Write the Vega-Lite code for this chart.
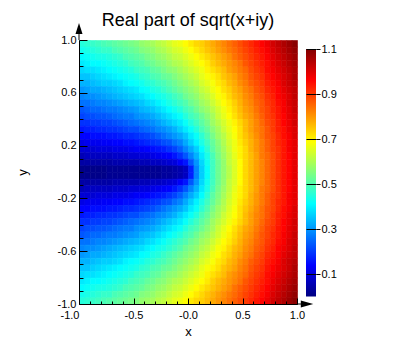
{
"$schema":"https://vega.github.io/schema/vega-lite/v6.json",
"padding":{"left":16,"top":12,"right":5,"bottom":5},
"bounds":"flush",
"spacing":9,
"config":{"font":"Liberation Sans","view":{"stroke":null},"axis":{"labelFont":"Liberation Sans","titleFont":"Liberation Sans","labelColor":"#000","titleColor":"#000","domainColor":"#000","tickColor":"#000","grid":false,"labelFontSize":11,"titleFontSize":13,"titleFontWeight":"normal"}},
"hconcat":[
{
"width":218,"height":264,
"title":{"text":"Real part of sqrt(x+iy)","fontSize":18,"fontWeight":"normal","color":"#000","font":"Liberation Sans","anchor":"middle","frame":"group","offset":-7},
"data":{"values":[
{"x":-1,"y":0.95,"v":0.45},{"x":-0.95,"y":0.95,"v":0.46},{"x":-0.9,"y":0.95,"v":0.47},{"x":-0.85,"y":0.95,"v":0.48},{"x":-0.8,"y":0.95,"v":0.49},{"x":-0.75,"y":0.95,"v":0.5},{"x":-0.7,"y":0.95,"v":0.51},{"x":-0.65,"y":0.95,"v":0.52},{"x":-0.6,"y":0.95,"v":0.53},{"x":-0.55,"y":0.95,"v":0.54},{"x":-0.5,"y":0.95,"v":0.55},{"x":-0.45,"y":0.95,"v":0.57},{"x":-0.4,"y":0.95,"v":0.58},{"x":-0.35,"y":0.95,"v":0.59},{"x":-0.3,"y":0.95,"v":0.61},{"x":-0.25,"y":0.95,"v":0.62},{"x":-0.2,"y":0.95,"v":0.64},{"x":-0.15,"y":0.95,"v":0.66},{"x":-0.1,"y":0.95,"v":0.67},{"x":-0.05,"y":0.95,"v":0.69},{"x":0,"y":0.95,"v":0.71},{"x":0.05,"y":0.95,"v":0.73},{"x":0.1,"y":0.95,"v":0.74},{"x":0.15,"y":0.95,"v":0.76},{"x":0.2,"y":0.95,"v":0.78},{"x":0.25,"y":0.95,"v":0.8},{"x":0.3,"y":0.95,"v":0.82},{"x":0.35,"y":0.95,"v":0.84},{"x":0.4,"y":0.95,"v":0.86},{"x":0.45,"y":0.95,"v":0.88},{"x":0.5,"y":0.95,"v":0.9},{"x":0.55,"y":0.95,"v":0.92},{"x":0.6,"y":0.95,"v":0.94},{"x":0.65,"y":0.95,"v":0.96},{"x":0.7,"y":0.95,"v":0.98},{"x":0.75,"y":0.95,"v":1.01},{"x":0.8,"y":0.95,"v":1.03},{"x":0.85,"y":0.95,"v":1.05},{"x":0.9,"y":0.95,"v":1.07},{"x":0.95,"y":0.95,"v":1.09},
{"x":-1,"y":0.9,"v":0.43},{"x":-0.95,"y":0.9,"v":0.44},{"x":-0.9,"y":0.9,"v":0.45},{"x":-0.85,"y":0.9,"v":0.46},{"x":-0.8,"y":0.9,"v":0.47},{"x":-0.75,"y":0.9,"v":0.47},{"x":-0.7,"y":0.9,"v":0.49},{"x":-0.65,"y":0.9,"v":0.5},{"x":-0.6,"y":0.9,"v":0.51},{"x":-0.55,"y":0.9,"v":0.52},{"x":-0.5,"y":0.9,"v":0.53},{"x":-0.45,"y":0.9,"v":0.55},{"x":-0.4,"y":0.9,"v":0.56},{"x":-0.35,"y":0.9,"v":0.57},{"x":-0.3,"y":0.9,"v":0.59},{"x":-0.25,"y":0.9,"v":0.6},{"x":-0.2,"y":0.9,"v":0.62},{"x":-0.15,"y":0.9,"v":0.64},{"x":-0.1,"y":0.9,"v":0.65},{"x":-0.05,"y":0.9,"v":0.67},{"x":0,"y":0.9,"v":0.69},{"x":0.05,"y":0.9,"v":0.71},{"x":0.1,"y":0.9,"v":0.73},{"x":0.15,"y":0.9,"v":0.75},{"x":0.2,"y":0.9,"v":0.77},{"x":0.25,"y":0.9,"v":0.79},{"x":0.3,"y":0.9,"v":0.81},{"x":0.35,"y":0.9,"v":0.83},{"x":0.4,"y":0.9,"v":0.85},{"x":0.45,"y":0.9,"v":0.87},{"x":0.5,"y":0.9,"v":0.89},{"x":0.55,"y":0.9,"v":0.91},{"x":0.6,"y":0.9,"v":0.93},{"x":0.65,"y":0.9,"v":0.95},{"x":0.7,"y":0.9,"v":0.97},{"x":0.75,"y":0.9,"v":1},{"x":0.8,"y":0.9,"v":1.02},{"x":0.85,"y":0.9,"v":1.04},{"x":0.9,"y":0.9,"v":1.06},{"x":0.95,"y":0.9,"v":1.08},
{"x":-1,"y":0.85,"v":0.41},{"x":-0.95,"y":0.85,"v":0.42},{"x":-0.9,"y":0.85,"v":0.43},{"x":-0.85,"y":0.85,"v":0.44},{"x":-0.8,"y":0.85,"v":0.44},{"x":-0.75,"y":0.85,"v":0.45},{"x":-0.7,"y":0.85,"v":0.46},{"x":-0.65,"y":0.85,"v":0.47},{"x":-0.6,"y":0.85,"v":0.49},{"x":-0.55,"y":0.85,"v":0.5},{"x":-0.5,"y":0.85,"v":0.51},{"x":-0.45,"y":0.85,"v":0.52},{"x":-0.4,"y":0.85,"v":0.54},{"x":-0.35,"y":0.85,"v":0.55},{"x":-0.3,"y":0.85,"v":0.57},{"x":-0.25,"y":0.85,"v":0.58},{"x":-0.2,"y":0.85,"v":0.6},{"x":-0.15,"y":0.85,"v":0.62},{"x":-0.1,"y":0.85,"v":0.63},{"x":-0.05,"y":0.85,"v":0.65},{"x":0,"y":0.85,"v":0.67},{"x":0.05,"y":0.85,"v":0.69},{"x":0.1,"y":0.85,"v":0.71},{"x":0.15,"y":0.85,"v":0.73},{"x":0.2,"y":0.85,"v":0.75},{"x":0.25,"y":0.85,"v":0.77},{"x":0.3,"y":0.85,"v":0.79},{"x":0.35,"y":0.85,"v":0.81},{"x":0.4,"y":0.85,"v":0.84},{"x":0.45,"y":0.85,"v":0.86},{"x":0.5,"y":0.85,"v":0.88},{"x":0.55,"y":0.85,"v":0.9},{"x":0.6,"y":0.85,"v":0.92},{"x":0.65,"y":0.85,"v":0.94},{"x":0.7,"y":0.85,"v":0.96},{"x":0.75,"y":0.85,"v":0.99},{"x":0.8,"y":0.85,"v":1.01},{"x":0.85,"y":0.85,"v":1.03},{"x":0.9,"y":0.85,"v":1.05},{"x":0.95,"y":0.85,"v":1.07},
{"x":-1,"y":0.8,"v":0.39},{"x":-0.95,"y":0.8,"v":0.4},{"x":-0.9,"y":0.8,"v":0.41},{"x":-0.85,"y":0.8,"v":0.41},{"x":-0.8,"y":0.8,"v":0.42},{"x":-0.75,"y":0.8,"v":0.43},{"x":-0.7,"y":0.8,"v":0.44},{"x":-0.65,"y":0.8,"v":0.45},{"x":-0.6,"y":0.8,"v":0.46},{"x":-0.55,"y":0.8,"v":0.48},{"x":-0.5,"y":0.8,"v":0.49},{"x":-0.45,"y":0.8,"v":0.5},{"x":-0.4,"y":0.8,"v":0.52},{"x":-0.35,"y":0.8,"v":0.53},{"x":-0.3,"y":0.8,"v":0.55},{"x":-0.25,"y":0.8,"v":0.56},{"x":-0.2,"y":0.8,"v":0.58},{"x":-0.15,"y":0.8,"v":0.6},{"x":-0.1,"y":0.8,"v":0.61},{"x":-0.05,"y":0.8,"v":0.63},{"x":0,"y":0.8,"v":0.65},{"x":0.05,"y":0.8,"v":0.67},{"x":0.1,"y":0.8,"v":0.69},{"x":0.15,"y":0.8,"v":0.71},{"x":0.2,"y":0.8,"v":0.74},{"x":0.25,"y":0.8,"v":0.76},{"x":0.3,"y":0.8,"v":0.78},{"x":0.35,"y":0.8,"v":0.8},{"x":0.4,"y":0.8,"v":0.82},{"x":0.45,"y":0.8,"v":0.84},{"x":0.5,"y":0.8,"v":0.87},{"x":0.55,"y":0.8,"v":0.89},{"x":0.6,"y":0.8,"v":0.91},{"x":0.65,"y":0.8,"v":0.93},{"x":0.7,"y":0.8,"v":0.95},{"x":0.75,"y":0.8,"v":0.98},{"x":0.8,"y":0.8,"v":1},{"x":0.85,"y":0.8,"v":1.02},{"x":0.9,"y":0.8,"v":1.04},{"x":0.95,"y":0.8,"v":1.06},
{"x":-1,"y":0.75,"v":0.37},{"x":-0.95,"y":0.75,"v":0.38},{"x":-0.9,"y":0.75,"v":0.38},{"x":-0.85,"y":0.75,"v":0.39},{"x":-0.8,"y":0.75,"v":0.4},{"x":-0.75,"y":0.75,"v":0.41},{"x":-0.7,"y":0.75,"v":0.42},{"x":-0.65,"y":0.75,"v":0.43},{"x":-0.6,"y":0.75,"v":0.44},{"x":-0.55,"y":0.75,"v":0.45},{"x":-0.5,"y":0.75,"v":0.47},{"x":-0.45,"y":0.75,"v":0.48},{"x":-0.4,"y":0.75,"v":0.49},{"x":-0.35,"y":0.75,"v":0.51},{"x":-0.3,"y":0.75,"v":0.52},{"x":-0.25,"y":0.75,"v":0.54},{"x":-0.2,"y":0.75,"v":0.56},{"x":-0.15,"y":0.75,"v":0.57},{"x":-0.1,"y":0.75,"v":0.59},{"x":-0.05,"y":0.75,"v":0.61},{"x":0,"y":0.75,"v":0.63},{"x":0.05,"y":0.75,"v":0.65},{"x":0.1,"y":0.75,"v":0.67},{"x":0.15,"y":0.75,"v":0.7},{"x":0.2,"y":0.75,"v":0.72},{"x":0.25,"y":0.75,"v":0.74},{"x":0.3,"y":0.75,"v":0.76},{"x":0.35,"y":0.75,"v":0.79},{"x":0.4,"y":0.75,"v":0.81},{"x":0.45,"y":0.75,"v":0.83},{"x":0.5,"y":0.75,"v":0.85},{"x":0.55,"y":0.75,"v":0.88},{"x":0.6,"y":0.75,"v":0.9},{"x":0.65,"y":0.75,"v":0.92},{"x":0.7,"y":0.75,"v":0.95},{"x":0.75,"y":0.75,"v":0.97},{"x":0.8,"y":0.75,"v":0.99},{"x":0.85,"y":0.75,"v":1.01},{"x":0.9,"y":0.75,"v":1.03},{"x":0.95,"y":0.75,"v":1.05},
{"x":-1,"y":0.7,"v":0.35},{"x":-0.95,"y":0.7,"v":0.35},{"x":-0.9,"y":0.7,"v":0.36},{"x":-0.85,"y":0.7,"v":0.37},{"x":-0.8,"y":0.7,"v":0.38},{"x":-0.75,"y":0.7,"v":0.39},{"x":-0.7,"y":0.7,"v":0.4},{"x":-0.65,"y":0.7,"v":0.41},{"x":-0.6,"y":0.7,"v":0.42},{"x":-0.55,"y":0.7,"v":0.43},{"x":-0.5,"y":0.7,"v":0.44},{"x":-0.45,"y":0.7,"v":0.46},{"x":-0.4,"y":0.7,"v":0.47},{"x":-0.35,"y":0.7,"v":0.49},{"x":-0.3,"y":0.7,"v":0.5},{"x":-0.25,"y":0.7,"v":0.52},{"x":-0.2,"y":0.7,"v":0.53},{"x":-0.15,"y":0.7,"v":0.55},{"x":-0.1,"y":0.7,"v":0.57},{"x":-0.05,"y":0.7,"v":0.59},{"x":0,"y":0.7,"v":0.61},{"x":0.05,"y":0.7,"v":0.63},{"x":0.1,"y":0.7,"v":0.66},{"x":0.15,"y":0.7,"v":0.68},{"x":0.2,"y":0.7,"v":0.7},{"x":0.25,"y":0.7,"v":0.72},{"x":0.3,"y":0.7,"v":0.75},{"x":0.35,"y":0.7,"v":0.77},{"x":0.4,"y":0.7,"v":0.79},{"x":0.45,"y":0.7,"v":0.82},{"x":0.5,"y":0.7,"v":0.84},{"x":0.55,"y":0.7,"v":0.87},{"x":0.6,"y":0.7,"v":0.89},{"x":0.65,"y":0.7,"v":0.91},{"x":0.7,"y":0.7,"v":0.94},{"x":0.75,"y":0.7,"v":0.96},{"x":0.8,"y":0.7,"v":0.98},{"x":0.85,"y":0.7,"v":1},{"x":0.9,"y":0.7,"v":1.02},{"x":0.95,"y":0.7,"v":1.05},
{"x":-1,"y":0.65,"v":0.33},{"x":-0.95,"y":0.65,"v":0.33},{"x":-0.9,"y":0.65,"v":0.34},{"x":-0.85,"y":0.65,"v":0.35},{"x":-0.8,"y":0.65,"v":0.36},{"x":-0.75,"y":0.65,"v":0.36},{"x":-0.7,"y":0.65,"v":0.37},{"x":-0.65,"y":0.65,"v":0.38},{"x":-0.6,"y":0.65,"v":0.4},{"x":-0.55,"y":0.65,"v":0.41},{"x":-0.5,"y":0.65,"v":0.42},{"x":-0.45,"y":0.65,"v":0.43},{"x":-0.4,"y":0.65,"v":0.45},{"x":-0.35,"y":0.65,"v":0.46},{"x":-0.3,"y":0.65,"v":0.48},{"x":-0.25,"y":0.65,"v":0.49},{"x":-0.2,"y":0.65,"v":0.51},{"x":-0.15,"y":0.65,"v":0.53},{"x":-0.1,"y":0.65,"v":0.55},{"x":-0.05,"y":0.65,"v":0.57},{"x":0,"y":0.65,"v":0.59},{"x":0.05,"y":0.65,"v":0.61},{"x":0.1,"y":0.65,"v":0.64},{"x":0.15,"y":0.65,"v":0.66},{"x":0.2,"y":0.65,"v":0.68},{"x":0.25,"y":0.65,"v":0.71},{"x":0.3,"y":0.65,"v":0.73},{"x":0.35,"y":0.65,"v":0.76},{"x":0.4,"y":0.65,"v":0.78},{"x":0.45,"y":0.65,"v":0.81},{"x":0.5,"y":0.65,"v":0.83},{"x":0.55,"y":0.65,"v":0.86},{"x":0.6,"y":0.65,"v":0.88},{"x":0.65,"y":0.65,"v":0.9},{"x":0.7,"y":0.65,"v":0.93},{"x":0.75,"y":0.65,"v":0.95},{"x":0.8,"y":0.65,"v":0.97},{"x":0.85,"y":0.65,"v":1},{"x":0.9,"y":0.65,"v":1.02},{"x":0.95,"y":0.65,"v":1.04},
{"x":-1,"y":0.6,"v":0.3},{"x":-0.95,"y":0.6,"v":0.31},{"x":-0.9,"y":0.6,"v":0.32},{"x":-0.85,"y":0.6,"v":0.32},{"x":-0.8,"y":0.6,"v":0.33},{"x":-0.75,"y":0.6,"v":0.34},{"x":-0.7,"y":0.6,"v":0.35},{"x":-0.65,"y":0.6,"v":0.36},{"x":-0.6,"y":0.6,"v":0.37},{"x":-0.55,"y":0.6,"v":0.38},{"x":-0.5,"y":0.6,"v":0.39},{"x":-0.45,"y":0.6,"v":0.41},{"x":-0.4,"y":0.6,"v":0.42},{"x":-0.35,"y":0.6,"v":0.44},{"x":-0.3,"y":0.6,"v":0.45},{"x":-0.25,"y":0.6,"v":0.47},{"x":-0.2,"y":0.6,"v":0.49},{"x":-0.15,"y":0.6,"v":0.51},{"x":-0.1,"y":0.6,"v":0.53},{"x":-0.05,"y":0.6,"v":0.55},{"x":0,"y":0.6,"v":0.57},{"x":0.05,"y":0.6,"v":0.59},{"x":0.1,"y":0.6,"v":0.62},{"x":0.15,"y":0.6,"v":0.64},{"x":0.2,"y":0.6,"v":0.67},{"x":0.25,"y":0.6,"v":0.69},{"x":0.3,"y":0.6,"v":0.72},{"x":0.35,"y":0.6,"v":0.74},{"x":0.4,"y":0.6,"v":0.77},{"x":0.45,"y":0.6,"v":0.79},{"x":0.5,"y":0.6,"v":0.82},{"x":0.55,"y":0.6,"v":0.84},{"x":0.6,"y":0.6,"v":0.87},{"x":0.65,"y":0.6,"v":0.89},{"x":0.7,"y":0.6,"v":0.92},{"x":0.75,"y":0.6,"v":0.94},{"x":0.8,"y":0.6,"v":0.96},{"x":0.85,"y":0.6,"v":0.99},{"x":0.9,"y":0.6,"v":1.01},{"x":0.95,"y":0.6,"v":1.03},
{"x":-1,"y":0.55,"v":0.28},{"x":-0.95,"y":0.55,"v":0.29},{"x":-0.9,"y":0.55,"v":0.29},{"x":-0.85,"y":0.55,"v":0.3},{"x":-0.8,"y":0.55,"v":0.31},{"x":-0.75,"y":0.55,"v":0.32},{"x":-0.7,"y":0.55,"v":0.33},{"x":-0.65,"y":0.55,"v":0.34},{"x":-0.6,"y":0.55,"v":0.35},{"x":-0.55,"y":0.55,"v":0.36},{"x":-0.5,"y":0.55,"v":0.37},{"x":-0.45,"y":0.55,"v":0.38},{"x":-0.4,"y":0.55,"v":0.4},{"x":-0.35,"y":0.55,"v":0.41},{"x":-0.3,"y":0.55,"v":0.43},{"x":-0.25,"y":0.55,"v":0.44},{"x":-0.2,"y":0.55,"v":0.46},{"x":-0.15,"y":0.55,"v":0.48},{"x":-0.1,"y":0.55,"v":0.5},{"x":-0.05,"y":0.55,"v":0.53},{"x":0,"y":0.55,"v":0.55},{"x":0.05,"y":0.55,"v":0.57},{"x":0.1,"y":0.55,"v":0.6},{"x":0.15,"y":0.55,"v":0.62},{"x":0.2,"y":0.55,"v":0.65},{"x":0.25,"y":0.55,"v":0.68},{"x":0.3,"y":0.55,"v":0.7},{"x":0.35,"y":0.55,"v":0.73},{"x":0.4,"y":0.55,"v":0.76},{"x":0.45,"y":0.55,"v":0.78},{"x":0.5,"y":0.55,"v":0.81},{"x":0.55,"y":0.55,"v":0.83},{"x":0.6,"y":0.55,"v":0.86},{"x":0.65,"y":0.55,"v":0.88},{"x":0.7,"y":0.55,"v":0.91},{"x":0.75,"y":0.55,"v":0.93},{"x":0.8,"y":0.55,"v":0.96},{"x":0.85,"y":0.55,"v":0.98},{"x":0.9,"y":0.55,"v":1},{"x":0.95,"y":0.55,"v":1.03},
{"x":-1,"y":0.5,"v":0.26},{"x":-0.95,"y":0.5,"v":0.26},{"x":-0.9,"y":0.5,"v":0.27},{"x":-0.85,"y":0.5,"v":0.28},{"x":-0.8,"y":0.5,"v":0.28},{"x":-0.75,"y":0.5,"v":0.29},{"x":-0.7,"y":0.5,"v":0.3},{"x":-0.65,"y":0.5,"v":0.31},{"x":-0.6,"y":0.5,"v":0.32},{"x":-0.55,"y":0.5,"v":0.33},{"x":-0.5,"y":0.5,"v":0.34},{"x":-0.45,"y":0.5,"v":0.35},{"x":-0.4,"y":0.5,"v":0.37},{"x":-0.35,"y":0.5,"v":0.38},{"x":-0.3,"y":0.5,"v":0.4},{"x":-0.25,"y":0.5,"v":0.42},{"x":-0.2,"y":0.5,"v":0.44},{"x":-0.15,"y":0.5,"v":0.46},{"x":-0.1,"y":0.5,"v":0.48},{"x":-0.05,"y":0.5,"v":0.5},{"x":0,"y":0.5,"v":0.53},{"x":0.05,"y":0.5,"v":0.55},{"x":0.1,"y":0.5,"v":0.58},{"x":0.15,"y":0.5,"v":0.6},{"x":0.2,"y":0.5,"v":0.63},{"x":0.25,"y":0.5,"v":0.66},{"x":0.3,"y":0.5,"v":0.69},{"x":0.35,"y":0.5,"v":0.71},{"x":0.4,"y":0.5,"v":0.74},{"x":0.45,"y":0.5,"v":0.77},{"x":0.5,"y":0.5,"v":0.8},{"x":0.55,"y":0.5,"v":0.82},{"x":0.6,"y":0.5,"v":0.85},{"x":0.65,"y":0.5,"v":0.87},{"x":0.7,"y":0.5,"v":0.9},{"x":0.75,"y":0.5,"v":0.92},{"x":0.8,"y":0.5,"v":0.95},{"x":0.85,"y":0.5,"v":0.97},{"x":0.9,"y":0.5,"v":1},{"x":0.95,"y":0.5,"v":1.02},
{"x":-1,"y":0.45,"v":0.23},{"x":-0.95,"y":0.45,"v":0.24},{"x":-0.9,"y":0.45,"v":0.25},{"x":-0.85,"y":0.45,"v":0.25},{"x":-0.8,"y":0.45,"v":0.26},{"x":-0.75,"y":0.45,"v":0.27},{"x":-0.7,"y":0.45,"v":0.27},{"x":-0.65,"y":0.45,"v":0.28},{"x":-0.6,"y":0.45,"v":0.29},{"x":-0.55,"y":0.45,"v":0.3},{"x":-0.5,"y":0.45,"v":0.31},{"x":-0.45,"y":0.45,"v":0.33},{"x":-0.4,"y":0.45,"v":0.34},{"x":-0.35,"y":0.45,"v":0.35},{"x":-0.3,"y":0.45,"v":0.37},{"x":-0.25,"y":0.45,"v":0.39},{"x":-0.2,"y":0.45,"v":0.41},{"x":-0.15,"y":0.45,"v":0.43},{"x":-0.1,"y":0.45,"v":0.45},{"x":-0.05,"y":0.45,"v":0.48},{"x":0,"y":0.45,"v":0.5},{"x":0.05,"y":0.45,"v":0.53},{"x":0.1,"y":0.45,"v":0.56},{"x":0.15,"y":0.45,"v":0.58},{"x":0.2,"y":0.45,"v":0.61},{"x":0.25,"y":0.45,"v":0.64},{"x":0.3,"y":0.45,"v":0.67},{"x":0.35,"y":0.45,"v":0.7},{"x":0.4,"y":0.45,"v":0.73},{"x":0.45,"y":0.45,"v":0.76},{"x":0.5,"y":0.45,"v":0.79},{"x":0.55,"y":0.45,"v":0.81},{"x":0.6,"y":0.45,"v":0.84},{"x":0.65,"y":0.45,"v":0.87},{"x":0.7,"y":0.45,"v":0.89},{"x":0.75,"y":0.45,"v":0.92},{"x":0.8,"y":0.45,"v":0.94},{"x":0.85,"y":0.45,"v":0.97},{"x":0.9,"y":0.45,"v":0.99},{"x":0.95,"y":0.45,"v":1.02},
{"x":-1,"y":0.4,"v":0.21},{"x":-0.95,"y":0.4,"v":0.22},{"x":-0.9,"y":0.4,"v":0.22},{"x":-0.85,"y":0.4,"v":0.23},{"x":-0.8,"y":0.4,"v":0.23},{"x":-0.75,"y":0.4,"v":0.24},{"x":-0.7,"y":0.4,"v":0.25},{"x":-0.65,"y":0.4,"v":0.26},{"x":-0.6,"y":0.4,"v":0.27},{"x":-0.55,"y":0.4,"v":0.27},{"x":-0.5,"y":0.4,"v":0.29},{"x":-0.45,"y":0.4,"v":0.3},{"x":-0.4,"y":0.4,"v":0.31},{"x":-0.35,"y":0.4,"v":0.32},{"x":-0.3,"y":0.4,"v":0.34},{"x":-0.25,"y":0.4,"v":0.36},{"x":-0.2,"y":0.4,"v":0.38},{"x":-0.15,"y":0.4,"v":0.4},{"x":-0.1,"y":0.4,"v":0.42},{"x":-0.05,"y":0.4,"v":0.45},{"x":0,"y":0.4,"v":0.48},{"x":0.05,"y":0.4,"v":0.5},{"x":0.1,"y":0.4,"v":0.53},{"x":0.15,"y":0.4,"v":0.56},{"x":0.2,"y":0.4,"v":0.59},{"x":0.25,"y":0.4,"v":0.63},{"x":0.3,"y":0.4,"v":0.66},{"x":0.35,"y":0.4,"v":0.69},{"x":0.4,"y":0.4,"v":0.72},{"x":0.45,"y":0.4,"v":0.75},{"x":0.5,"y":0.4,"v":0.78},{"x":0.55,"y":0.4,"v":0.8},{"x":0.6,"y":0.4,"v":0.83},{"x":0.65,"y":0.4,"v":0.86},{"x":0.7,"y":0.4,"v":0.89},{"x":0.75,"y":0.4,"v":0.91},{"x":0.8,"y":0.4,"v":0.94},{"x":0.85,"y":0.4,"v":0.96},{"x":0.9,"y":0.4,"v":0.99},{"x":0.95,"y":0.4,"v":1.01},
{"x":-1,"y":0.35,"v":0.19},{"x":-0.95,"y":0.35,"v":0.19},{"x":-0.9,"y":0.35,"v":0.2},{"x":-0.85,"y":0.35,"v":0.2},{"x":-0.8,"y":0.35,"v":0.21},{"x":-0.75,"y":0.35,"v":0.21},{"x":-0.7,"y":0.35,"v":0.22},{"x":-0.65,"y":0.35,"v":0.23},{"x":-0.6,"y":0.35,"v":0.24},{"x":-0.55,"y":0.35,"v":0.25},{"x":-0.5,"y":0.35,"v":0.26},{"x":-0.45,"y":0.35,"v":0.27},{"x":-0.4,"y":0.35,"v":0.28},{"x":-0.35,"y":0.35,"v":0.29},{"x":-0.3,"y":0.35,"v":0.31},{"x":-0.25,"y":0.35,"v":0.33},{"x":-0.2,"y":0.35,"v":0.35},{"x":-0.15,"y":0.35,"v":0.37},{"x":-0.1,"y":0.35,"v":0.39},{"x":-0.05,"y":0.35,"v":0.42},{"x":0,"y":0.35,"v":0.45},{"x":0.05,"y":0.35,"v":0.48},{"x":0.1,"y":0.35,"v":0.51},{"x":0.15,"y":0.35,"v":0.54},{"x":0.2,"y":0.35,"v":0.58},{"x":0.25,"y":0.35,"v":0.61},{"x":0.3,"y":0.35,"v":0.64},{"x":0.35,"y":0.35,"v":0.67},{"x":0.4,"y":0.35,"v":0.7},{"x":0.45,"y":0.35,"v":0.73},{"x":0.5,"y":0.35,"v":0.76},{"x":0.55,"y":0.35,"v":0.79},{"x":0.6,"y":0.35,"v":0.82},{"x":0.65,"y":0.35,"v":0.85},{"x":0.7,"y":0.35,"v":0.88},{"x":0.75,"y":0.35,"v":0.9},{"x":0.8,"y":0.35,"v":0.93},{"x":0.85,"y":0.35,"v":0.96},{"x":0.9,"y":0.35,"v":0.98},{"x":0.95,"y":0.35,"v":1.01},
{"x":-1,"y":0.3,"v":0.16},{"x":-0.95,"y":0.3,"v":0.17},{"x":-0.9,"y":0.3,"v":0.17},{"x":-0.85,"y":0.3,"v":0.18},{"x":-0.8,"y":0.3,"v":0.18},{"x":-0.75,"y":0.3,"v":0.19},{"x":-0.7,"y":0.3,"v":0.19},{"x":-0.65,"y":0.3,"v":0.2},{"x":-0.6,"y":0.3,"v":0.21},{"x":-0.55,"y":0.3,"v":0.22},{"x":-0.5,"y":0.3,"v":0.22},{"x":-0.45,"y":0.3,"v":0.24},{"x":-0.4,"y":0.3,"v":0.25},{"x":-0.35,"y":0.3,"v":0.26},{"x":-0.3,"y":0.3,"v":0.28},{"x":-0.25,"y":0.3,"v":0.29},{"x":-0.2,"y":0.3,"v":0.31},{"x":-0.15,"y":0.3,"v":0.33},{"x":-0.1,"y":0.3,"v":0.36},{"x":-0.05,"y":0.3,"v":0.39},{"x":0,"y":0.3,"v":0.42},{"x":0.05,"y":0.3,"v":0.45},{"x":0.1,"y":0.3,"v":0.49},{"x":0.15,"y":0.3,"v":0.52},{"x":0.2,"y":0.3,"v":0.56},{"x":0.25,"y":0.3,"v":0.59},{"x":0.3,"y":0.3,"v":0.63},{"x":0.35,"y":0.3,"v":0.66},{"x":0.4,"y":0.3,"v":0.69},{"x":0.45,"y":0.3,"v":0.72},{"x":0.5,"y":0.3,"v":0.76},{"x":0.55,"y":0.3,"v":0.79},{"x":0.6,"y":0.3,"v":0.82},{"x":0.65,"y":0.3,"v":0.84},{"x":0.7,"y":0.3,"v":0.87},{"x":0.75,"y":0.3,"v":0.9},{"x":0.8,"y":0.3,"v":0.93},{"x":0.85,"y":0.3,"v":0.95},{"x":0.9,"y":0.3,"v":0.98},{"x":0.95,"y":0.3,"v":1},
{"x":-1,"y":0.25,"v":0.14},{"x":-0.95,"y":0.25,"v":0.14},{"x":-0.9,"y":0.25,"v":0.15},{"x":-0.85,"y":0.25,"v":0.15},{"x":-0.8,"y":0.25,"v":0.15},{"x":-0.75,"y":0.25,"v":0.16},{"x":-0.7,"y":0.25,"v":0.16},{"x":-0.65,"y":0.25,"v":0.17},{"x":-0.6,"y":0.25,"v":0.18},{"x":-0.55,"y":0.25,"v":0.18},{"x":-0.5,"y":0.25,"v":0.19},{"x":-0.45,"y":0.25,"v":0.2},{"x":-0.4,"y":0.25,"v":0.21},{"x":-0.35,"y":0.25,"v":0.22},{"x":-0.3,"y":0.25,"v":0.24},{"x":-0.25,"y":0.25,"v":0.26},{"x":-0.2,"y":0.25,"v":0.28},{"x":-0.15,"y":0.25,"v":0.3},{"x":-0.1,"y":0.25,"v":0.32},{"x":-0.05,"y":0.25,"v":0.35},{"x":0,"y":0.25,"v":0.39},{"x":0.05,"y":0.25,"v":0.42},{"x":0.1,"y":0.25,"v":0.46},{"x":0.15,"y":0.25,"v":0.5},{"x":0.2,"y":0.25,"v":0.54},{"x":0.25,"y":0.25,"v":0.58},{"x":0.3,"y":0.25,"v":0.61},{"x":0.35,"y":0.25,"v":0.65},{"x":0.4,"y":0.25,"v":0.68},{"x":0.45,"y":0.25,"v":0.72},{"x":0.5,"y":0.25,"v":0.75},{"x":0.55,"y":0.25,"v":0.78},{"x":0.6,"y":0.25,"v":0.81},{"x":0.65,"y":0.25,"v":0.84},{"x":0.7,"y":0.25,"v":0.87},{"x":0.75,"y":0.25,"v":0.89},{"x":0.8,"y":0.25,"v":0.92},{"x":0.85,"y":0.25,"v":0.95},{"x":0.9,"y":0.25,"v":0.97},{"x":0.95,"y":0.25,"v":1},
{"x":-1,"y":0.2,"v":0.11},{"x":-0.95,"y":0.2,"v":0.12},{"x":-0.9,"y":0.2,"v":0.12},{"x":-0.85,"y":0.2,"v":0.12},{"x":-0.8,"y":0.2,"v":0.13},{"x":-0.75,"y":0.2,"v":0.13},{"x":-0.7,"y":0.2,"v":0.14},{"x":-0.65,"y":0.2,"v":0.14},{"x":-0.6,"y":0.2,"v":0.15},{"x":-0.55,"y":0.2,"v":0.15},{"x":-0.5,"y":0.2,"v":0.16},{"x":-0.45,"y":0.2,"v":0.17},{"x":-0.4,"y":0.2,"v":0.18},{"x":-0.35,"y":0.2,"v":0.19},{"x":-0.3,"y":0.2,"v":0.2},{"x":-0.25,"y":0.2,"v":0.22},{"x":-0.2,"y":0.2,"v":0.23},{"x":-0.15,"y":0.2,"v":0.26},{"x":-0.1,"y":0.2,"v":0.28},{"x":-0.05,"y":0.2,"v":0.32},{"x":0,"y":0.2,"v":0.36},{"x":0.05,"y":0.2,"v":0.4},{"x":0.1,"y":0.2,"v":0.44},{"x":0.15,"y":0.2,"v":0.48},{"x":0.2,"y":0.2,"v":0.52},{"x":0.25,"y":0.2,"v":0.56},{"x":0.3,"y":0.2,"v":0.6},{"x":0.35,"y":0.2,"v":0.64},{"x":0.4,"y":0.2,"v":0.67},{"x":0.45,"y":0.2,"v":0.71},{"x":0.5,"y":0.2,"v":0.74},{"x":0.55,"y":0.2,"v":0.77},{"x":0.6,"y":0.2,"v":0.8},{"x":0.65,"y":0.2,"v":0.83},{"x":0.7,"y":0.2,"v":0.86},{"x":0.75,"y":0.2,"v":0.89},{"x":0.8,"y":0.2,"v":0.92},{"x":0.85,"y":0.2,"v":0.94},{"x":0.9,"y":0.2,"v":0.97},{"x":0.95,"y":0.2,"v":0.99},
{"x":-1,"y":0.15,"v":0.09},{"x":-0.95,"y":0.15,"v":0.09},{"x":-0.9,"y":0.15,"v":0.09},{"x":-0.85,"y":0.15,"v":0.1},{"x":-0.8,"y":0.15,"v":0.1},{"x":-0.75,"y":0.15,"v":0.1},{"x":-0.7,"y":0.15,"v":0.11},{"x":-0.65,"y":0.15,"v":0.11},{"x":-0.6,"y":0.15,"v":0.11},{"x":-0.55,"y":0.15,"v":0.12},{"x":-0.5,"y":0.15,"v":0.13},{"x":-0.45,"y":0.15,"v":0.13},{"x":-0.4,"y":0.15,"v":0.14},{"x":-0.35,"y":0.15,"v":0.15},{"x":-0.3,"y":0.15,"v":0.16},{"x":-0.25,"y":0.15,"v":0.17},{"x":-0.2,"y":0.15,"v":0.19},{"x":-0.15,"y":0.15,"v":0.21},{"x":-0.1,"y":0.15,"v":0.24},{"x":-0.05,"y":0.15,"v":0.28},{"x":0,"y":0.15,"v":0.32},{"x":0.05,"y":0.15,"v":0.36},{"x":0.1,"y":0.15,"v":0.41},{"x":0.15,"y":0.15,"v":0.46},{"x":0.2,"y":0.15,"v":0.51},{"x":0.25,"y":0.15,"v":0.55},{"x":0.3,"y":0.15,"v":0.59},{"x":0.35,"y":0.15,"v":0.63},{"x":0.4,"y":0.15,"v":0.67},{"x":0.45,"y":0.15,"v":0.7},{"x":0.5,"y":0.15,"v":0.73},{"x":0.55,"y":0.15,"v":0.77},{"x":0.6,"y":0.15,"v":0.8},{"x":0.65,"y":0.15,"v":0.83},{"x":0.7,"y":0.15,"v":0.86},{"x":0.75,"y":0.15,"v":0.89},{"x":0.8,"y":0.15,"v":0.91},{"x":0.85,"y":0.15,"v":0.94},{"x":0.9,"y":0.15,"v":0.97},{"x":0.95,"y":0.15,"v":0.99},
{"x":-1,"y":0.1,"v":0.06},{"x":-0.95,"y":0.1,"v":0.07},{"x":-0.9,"y":0.1,"v":0.07},{"x":-0.85,"y":0.1,"v":0.07},{"x":-0.8,"y":0.1,"v":0.07},{"x":-0.75,"y":0.1,"v":0.07},{"x":-0.7,"y":0.1,"v":0.08},{"x":-0.65,"y":0.1,"v":0.08},{"x":-0.6,"y":0.1,"v":0.08},{"x":-0.55,"y":0.1,"v":0.09},{"x":-0.5,"y":0.1,"v":0.09},{"x":-0.45,"y":0.1,"v":0.1},{"x":-0.4,"y":0.1,"v":0.1},{"x":-0.35,"y":0.1,"v":0.11},{"x":-0.3,"y":0.1,"v":0.12},{"x":-0.25,"y":0.1,"v":0.13},{"x":-0.2,"y":0.1,"v":0.14},{"x":-0.15,"y":0.1,"v":0.16},{"x":-0.1,"y":0.1,"v":0.19},{"x":-0.05,"y":0.1,"v":0.23},{"x":0,"y":0.1,"v":0.28},{"x":0.05,"y":0.1,"v":0.33},{"x":0.1,"y":0.1,"v":0.39},{"x":0.15,"y":0.1,"v":0.44},{"x":0.2,"y":0.1,"v":0.49},{"x":0.25,"y":0.1,"v":0.54},{"x":0.3,"y":0.1,"v":0.58},{"x":0.35,"y":0.1,"v":0.62},{"x":0.4,"y":0.1,"v":0.66},{"x":0.45,"y":0.1,"v":0.7},{"x":0.5,"y":0.1,"v":0.73},{"x":0.55,"y":0.1,"v":0.76},{"x":0.6,"y":0.1,"v":0.79},{"x":0.65,"y":0.1,"v":0.83},{"x":0.7,"y":0.1,"v":0.85},{"x":0.75,"y":0.1,"v":0.88},{"x":0.8,"y":0.1,"v":0.91},{"x":0.85,"y":0.1,"v":0.94},{"x":0.9,"y":0.1,"v":0.96},{"x":0.95,"y":0.1,"v":0.99},
{"x":-1,"y":0.05,"v":0.04},{"x":-0.95,"y":0.05,"v":0.04},{"x":-0.9,"y":0.05,"v":0.04},{"x":-0.85,"y":0.05,"v":0.04},{"x":-0.8,"y":0.05,"v":0.04},{"x":-0.75,"y":0.05,"v":0.04},{"x":-0.7,"y":0.05,"v":0.05},{"x":-0.65,"y":0.05,"v":0.05},{"x":-0.6,"y":0.05,"v":0.05},{"x":-0.55,"y":0.05,"v":0.05},{"x":-0.5,"y":0.05,"v":0.05},{"x":-0.45,"y":0.05,"v":0.06},{"x":-0.4,"y":0.05,"v":0.06},{"x":-0.35,"y":0.05,"v":0.07},{"x":-0.3,"y":0.05,"v":0.07},{"x":-0.25,"y":0.05,"v":0.08},{"x":-0.2,"y":0.05,"v":0.09},{"x":-0.15,"y":0.05,"v":0.1},{"x":-0.1,"y":0.05,"v":0.13},{"x":-0.05,"y":0.05,"v":0.16},{"x":0,"y":0.05,"v":0.23},{"x":0.05,"y":0.05,"v":0.3},{"x":0.1,"y":0.05,"v":0.37},{"x":0.15,"y":0.05,"v":0.43},{"x":0.2,"y":0.05,"v":0.48},{"x":0.25,"y":0.05,"v":0.53},{"x":0.3,"y":0.05,"v":0.57},{"x":0.35,"y":0.05,"v":0.62},{"x":0.4,"y":0.05,"v":0.65},{"x":0.45,"y":0.05,"v":0.69},{"x":0.5,"y":0.05,"v":0.73},{"x":0.55,"y":0.05,"v":0.76},{"x":0.6,"y":0.05,"v":0.79},{"x":0.65,"y":0.05,"v":0.82},{"x":0.7,"y":0.05,"v":0.85},{"x":0.75,"y":0.05,"v":0.88},{"x":0.8,"y":0.05,"v":0.91},{"x":0.85,"y":0.05,"v":0.94},{"x":0.9,"y":0.05,"v":0.96},{"x":0.95,"y":0.05,"v":0.99},
{"x":-1,"y":0,"v":0.01},{"x":-0.95,"y":0,"v":0.01},{"x":-0.9,"y":0,"v":0.01},{"x":-0.85,"y":0,"v":0.01},{"x":-0.8,"y":0,"v":0.01},{"x":-0.75,"y":0,"v":0.02},{"x":-0.7,"y":0,"v":0.02},{"x":-0.65,"y":0,"v":0.02},{"x":-0.6,"y":0,"v":0.02},{"x":-0.55,"y":0,"v":0.02},{"x":-0.5,"y":0,"v":0.02},{"x":-0.45,"y":0,"v":0.02},{"x":-0.4,"y":0,"v":0.02},{"x":-0.35,"y":0,"v":0.02},{"x":-0.3,"y":0,"v":0.02},{"x":-0.25,"y":0,"v":0.03},{"x":-0.2,"y":0,"v":0.03},{"x":-0.15,"y":0,"v":0.04},{"x":-0.1,"y":0,"v":0.05},{"x":-0.05,"y":0,"v":0.07},{"x":0,"y":0,"v":0.17},{"x":0.05,"y":0,"v":0.28},{"x":0.1,"y":0,"v":0.36},{"x":0.15,"y":0,"v":0.42},{"x":0.2,"y":0,"v":0.48},{"x":0.25,"y":0,"v":0.53},{"x":0.3,"y":0,"v":0.57},{"x":0.35,"y":0,"v":0.61},{"x":0.4,"y":0,"v":0.65},{"x":0.45,"y":0,"v":0.69},{"x":0.5,"y":0,"v":0.73},{"x":0.55,"y":0,"v":0.76},{"x":0.6,"y":0,"v":0.79},{"x":0.65,"y":0,"v":0.82},{"x":0.7,"y":0,"v":0.85},{"x":0.75,"y":0,"v":0.88},{"x":0.8,"y":0,"v":0.91},{"x":0.85,"y":0,"v":0.94},{"x":0.9,"y":0,"v":0.96},{"x":0.95,"y":0,"v":0.99},
{"x":-1,"y":-0.05,"v":0.01},{"x":-0.95,"y":-0.05,"v":0.01},{"x":-0.9,"y":-0.05,"v":0.01},{"x":-0.85,"y":-0.05,"v":0.01},{"x":-0.8,"y":-0.05,"v":0.01},{"x":-0.75,"y":-0.05,"v":0.02},{"x":-0.7,"y":-0.05,"v":0.02},{"x":-0.65,"y":-0.05,"v":0.02},{"x":-0.6,"y":-0.05,"v":0.02},{"x":-0.55,"y":-0.05,"v":0.02},{"x":-0.5,"y":-0.05,"v":0.02},{"x":-0.45,"y":-0.05,"v":0.02},{"x":-0.4,"y":-0.05,"v":0.02},{"x":-0.35,"y":-0.05,"v":0.02},{"x":-0.3,"y":-0.05,"v":0.02},{"x":-0.25,"y":-0.05,"v":0.03},{"x":-0.2,"y":-0.05,"v":0.03},{"x":-0.15,"y":-0.05,"v":0.04},{"x":-0.1,"y":-0.05,"v":0.05},{"x":-0.05,"y":-0.05,"v":0.07},{"x":0,"y":-0.05,"v":0.17},{"x":0.05,"y":-0.05,"v":0.28},{"x":0.1,"y":-0.05,"v":0.36},{"x":0.15,"y":-0.05,"v":0.42},{"x":0.2,"y":-0.05,"v":0.48},{"x":0.25,"y":-0.05,"v":0.53},{"x":0.3,"y":-0.05,"v":0.57},{"x":0.35,"y":-0.05,"v":0.61},{"x":0.4,"y":-0.05,"v":0.65},{"x":0.45,"y":-0.05,"v":0.69},{"x":0.5,"y":-0.05,"v":0.73},{"x":0.55,"y":-0.05,"v":0.76},{"x":0.6,"y":-0.05,"v":0.79},{"x":0.65,"y":-0.05,"v":0.82},{"x":0.7,"y":-0.05,"v":0.85},{"x":0.75,"y":-0.05,"v":0.88},{"x":0.8,"y":-0.05,"v":0.91},{"x":0.85,"y":-0.05,"v":0.94},{"x":0.9,"y":-0.05,"v":0.96},{"x":0.95,"y":-0.05,"v":0.99},
{"x":-1,"y":-0.1,"v":0.04},{"x":-0.95,"y":-0.1,"v":0.04},{"x":-0.9,"y":-0.1,"v":0.04},{"x":-0.85,"y":-0.1,"v":0.04},{"x":-0.8,"y":-0.1,"v":0.04},{"x":-0.75,"y":-0.1,"v":0.04},{"x":-0.7,"y":-0.1,"v":0.05},{"x":-0.65,"y":-0.1,"v":0.05},{"x":-0.6,"y":-0.1,"v":0.05},{"x":-0.55,"y":-0.1,"v":0.05},{"x":-0.5,"y":-0.1,"v":0.05},{"x":-0.45,"y":-0.1,"v":0.06},{"x":-0.4,"y":-0.1,"v":0.06},{"x":-0.35,"y":-0.1,"v":0.07},{"x":-0.3,"y":-0.1,"v":0.07},{"x":-0.25,"y":-0.1,"v":0.08},{"x":-0.2,"y":-0.1,"v":0.09},{"x":-0.15,"y":-0.1,"v":0.1},{"x":-0.1,"y":-0.1,"v":0.13},{"x":-0.05,"y":-0.1,"v":0.16},{"x":0,"y":-0.1,"v":0.23},{"x":0.05,"y":-0.1,"v":0.3},{"x":0.1,"y":-0.1,"v":0.37},{"x":0.15,"y":-0.1,"v":0.43},{"x":0.2,"y":-0.1,"v":0.48},{"x":0.25,"y":-0.1,"v":0.53},{"x":0.3,"y":-0.1,"v":0.57},{"x":0.35,"y":-0.1,"v":0.62},{"x":0.4,"y":-0.1,"v":0.65},{"x":0.45,"y":-0.1,"v":0.69},{"x":0.5,"y":-0.1,"v":0.73},{"x":0.55,"y":-0.1,"v":0.76},{"x":0.6,"y":-0.1,"v":0.79},{"x":0.65,"y":-0.1,"v":0.82},{"x":0.7,"y":-0.1,"v":0.85},{"x":0.75,"y":-0.1,"v":0.88},{"x":0.8,"y":-0.1,"v":0.91},{"x":0.85,"y":-0.1,"v":0.94},{"x":0.9,"y":-0.1,"v":0.96},{"x":0.95,"y":-0.1,"v":0.99},
{"x":-1,"y":-0.15,"v":0.06},{"x":-0.95,"y":-0.15,"v":0.07},{"x":-0.9,"y":-0.15,"v":0.07},{"x":-0.85,"y":-0.15,"v":0.07},{"x":-0.8,"y":-0.15,"v":0.07},{"x":-0.75,"y":-0.15,"v":0.07},{"x":-0.7,"y":-0.15,"v":0.08},{"x":-0.65,"y":-0.15,"v":0.08},{"x":-0.6,"y":-0.15,"v":0.08},{"x":-0.55,"y":-0.15,"v":0.09},{"x":-0.5,"y":-0.15,"v":0.09},{"x":-0.45,"y":-0.15,"v":0.1},{"x":-0.4,"y":-0.15,"v":0.1},{"x":-0.35,"y":-0.15,"v":0.11},{"x":-0.3,"y":-0.15,"v":0.12},{"x":-0.25,"y":-0.15,"v":0.13},{"x":-0.2,"y":-0.15,"v":0.14},{"x":-0.15,"y":-0.15,"v":0.16},{"x":-0.1,"y":-0.15,"v":0.19},{"x":-0.05,"y":-0.15,"v":0.23},{"x":0,"y":-0.15,"v":0.28},{"x":0.05,"y":-0.15,"v":0.33},{"x":0.1,"y":-0.15,"v":0.39},{"x":0.15,"y":-0.15,"v":0.44},{"x":0.2,"y":-0.15,"v":0.49},{"x":0.25,"y":-0.15,"v":0.54},{"x":0.3,"y":-0.15,"v":0.58},{"x":0.35,"y":-0.15,"v":0.62},{"x":0.4,"y":-0.15,"v":0.66},{"x":0.45,"y":-0.15,"v":0.7},{"x":0.5,"y":-0.15,"v":0.73},{"x":0.55,"y":-0.15,"v":0.76},{"x":0.6,"y":-0.15,"v":0.79},{"x":0.65,"y":-0.15,"v":0.83},{"x":0.7,"y":-0.15,"v":0.85},{"x":0.75,"y":-0.15,"v":0.88},{"x":0.8,"y":-0.15,"v":0.91},{"x":0.85,"y":-0.15,"v":0.94},{"x":0.9,"y":-0.15,"v":0.96},{"x":0.95,"y":-0.15,"v":0.99},
{"x":-1,"y":-0.2,"v":0.09},{"x":-0.95,"y":-0.2,"v":0.09},{"x":-0.9,"y":-0.2,"v":0.09},{"x":-0.85,"y":-0.2,"v":0.1},{"x":-0.8,"y":-0.2,"v":0.1},{"x":-0.75,"y":-0.2,"v":0.1},{"x":-0.7,"y":-0.2,"v":0.11},{"x":-0.65,"y":-0.2,"v":0.11},{"x":-0.6,"y":-0.2,"v":0.11},{"x":-0.55,"y":-0.2,"v":0.12},{"x":-0.5,"y":-0.2,"v":0.13},{"x":-0.45,"y":-0.2,"v":0.13},{"x":-0.4,"y":-0.2,"v":0.14},{"x":-0.35,"y":-0.2,"v":0.15},{"x":-0.3,"y":-0.2,"v":0.16},{"x":-0.25,"y":-0.2,"v":0.17},{"x":-0.2,"y":-0.2,"v":0.19},{"x":-0.15,"y":-0.2,"v":0.21},{"x":-0.1,"y":-0.2,"v":0.24},{"x":-0.05,"y":-0.2,"v":0.28},{"x":0,"y":-0.2,"v":0.32},{"x":0.05,"y":-0.2,"v":0.36},{"x":0.1,"y":-0.2,"v":0.41},{"x":0.15,"y":-0.2,"v":0.46},{"x":0.2,"y":-0.2,"v":0.51},{"x":0.25,"y":-0.2,"v":0.55},{"x":0.3,"y":-0.2,"v":0.59},{"x":0.35,"y":-0.2,"v":0.63},{"x":0.4,"y":-0.2,"v":0.67},{"x":0.45,"y":-0.2,"v":0.7},{"x":0.5,"y":-0.2,"v":0.73},{"x":0.55,"y":-0.2,"v":0.77},{"x":0.6,"y":-0.2,"v":0.8},{"x":0.65,"y":-0.2,"v":0.83},{"x":0.7,"y":-0.2,"v":0.86},{"x":0.75,"y":-0.2,"v":0.89},{"x":0.8,"y":-0.2,"v":0.91},{"x":0.85,"y":-0.2,"v":0.94},{"x":0.9,"y":-0.2,"v":0.97},{"x":0.95,"y":-0.2,"v":0.99},
{"x":-1,"y":-0.25,"v":0.11},{"x":-0.95,"y":-0.25,"v":0.12},{"x":-0.9,"y":-0.25,"v":0.12},{"x":-0.85,"y":-0.25,"v":0.12},{"x":-0.8,"y":-0.25,"v":0.13},{"x":-0.75,"y":-0.25,"v":0.13},{"x":-0.7,"y":-0.25,"v":0.14},{"x":-0.65,"y":-0.25,"v":0.14},{"x":-0.6,"y":-0.25,"v":0.15},{"x":-0.55,"y":-0.25,"v":0.15},{"x":-0.5,"y":-0.25,"v":0.16},{"x":-0.45,"y":-0.25,"v":0.17},{"x":-0.4,"y":-0.25,"v":0.18},{"x":-0.35,"y":-0.25,"v":0.19},{"x":-0.3,"y":-0.25,"v":0.2},{"x":-0.25,"y":-0.25,"v":0.22},{"x":-0.2,"y":-0.25,"v":0.23},{"x":-0.15,"y":-0.25,"v":0.26},{"x":-0.1,"y":-0.25,"v":0.28},{"x":-0.05,"y":-0.25,"v":0.32},{"x":0,"y":-0.25,"v":0.36},{"x":0.05,"y":-0.25,"v":0.4},{"x":0.1,"y":-0.25,"v":0.44},{"x":0.15,"y":-0.25,"v":0.48},{"x":0.2,"y":-0.25,"v":0.52},{"x":0.25,"y":-0.25,"v":0.56},{"x":0.3,"y":-0.25,"v":0.6},{"x":0.35,"y":-0.25,"v":0.64},{"x":0.4,"y":-0.25,"v":0.67},{"x":0.45,"y":-0.25,"v":0.71},{"x":0.5,"y":-0.25,"v":0.74},{"x":0.55,"y":-0.25,"v":0.77},{"x":0.6,"y":-0.25,"v":0.8},{"x":0.65,"y":-0.25,"v":0.83},{"x":0.7,"y":-0.25,"v":0.86},{"x":0.75,"y":-0.25,"v":0.89},{"x":0.8,"y":-0.25,"v":0.92},{"x":0.85,"y":-0.25,"v":0.94},{"x":0.9,"y":-0.25,"v":0.97},{"x":0.95,"y":-0.25,"v":0.99},
{"x":-1,"y":-0.3,"v":0.14},{"x":-0.95,"y":-0.3,"v":0.14},{"x":-0.9,"y":-0.3,"v":0.15},{"x":-0.85,"y":-0.3,"v":0.15},{"x":-0.8,"y":-0.3,"v":0.15},{"x":-0.75,"y":-0.3,"v":0.16},{"x":-0.7,"y":-0.3,"v":0.16},{"x":-0.65,"y":-0.3,"v":0.17},{"x":-0.6,"y":-0.3,"v":0.18},{"x":-0.55,"y":-0.3,"v":0.18},{"x":-0.5,"y":-0.3,"v":0.19},{"x":-0.45,"y":-0.3,"v":0.2},{"x":-0.4,"y":-0.3,"v":0.21},{"x":-0.35,"y":-0.3,"v":0.22},{"x":-0.3,"y":-0.3,"v":0.24},{"x":-0.25,"y":-0.3,"v":0.26},{"x":-0.2,"y":-0.3,"v":0.28},{"x":-0.15,"y":-0.3,"v":0.3},{"x":-0.1,"y":-0.3,"v":0.32},{"x":-0.05,"y":-0.3,"v":0.35},{"x":0,"y":-0.3,"v":0.39},{"x":0.05,"y":-0.3,"v":0.42},{"x":0.1,"y":-0.3,"v":0.46},{"x":0.15,"y":-0.3,"v":0.5},{"x":0.2,"y":-0.3,"v":0.54},{"x":0.25,"y":-0.3,"v":0.58},{"x":0.3,"y":-0.3,"v":0.61},{"x":0.35,"y":-0.3,"v":0.65},{"x":0.4,"y":-0.3,"v":0.68},{"x":0.45,"y":-0.3,"v":0.72},{"x":0.5,"y":-0.3,"v":0.75},{"x":0.55,"y":-0.3,"v":0.78},{"x":0.6,"y":-0.3,"v":0.81},{"x":0.65,"y":-0.3,"v":0.84},{"x":0.7,"y":-0.3,"v":0.87},{"x":0.75,"y":-0.3,"v":0.89},{"x":0.8,"y":-0.3,"v":0.92},{"x":0.85,"y":-0.3,"v":0.95},{"x":0.9,"y":-0.3,"v":0.97},{"x":0.95,"y":-0.3,"v":1},
{"x":-1,"y":-0.35,"v":0.16},{"x":-0.95,"y":-0.35,"v":0.17},{"x":-0.9,"y":-0.35,"v":0.17},{"x":-0.85,"y":-0.35,"v":0.18},{"x":-0.8,"y":-0.35,"v":0.18},{"x":-0.75,"y":-0.35,"v":0.19},{"x":-0.7,"y":-0.35,"v":0.19},{"x":-0.65,"y":-0.35,"v":0.2},{"x":-0.6,"y":-0.35,"v":0.21},{"x":-0.55,"y":-0.35,"v":0.22},{"x":-0.5,"y":-0.35,"v":0.22},{"x":-0.45,"y":-0.35,"v":0.24},{"x":-0.4,"y":-0.35,"v":0.25},{"x":-0.35,"y":-0.35,"v":0.26},{"x":-0.3,"y":-0.35,"v":0.28},{"x":-0.25,"y":-0.35,"v":0.29},{"x":-0.2,"y":-0.35,"v":0.31},{"x":-0.15,"y":-0.35,"v":0.33},{"x":-0.1,"y":-0.35,"v":0.36},{"x":-0.05,"y":-0.35,"v":0.39},{"x":0,"y":-0.35,"v":0.42},{"x":0.05,"y":-0.35,"v":0.45},{"x":0.1,"y":-0.35,"v":0.49},{"x":0.15,"y":-0.35,"v":0.52},{"x":0.2,"y":-0.35,"v":0.56},{"x":0.25,"y":-0.35,"v":0.59},{"x":0.3,"y":-0.35,"v":0.63},{"x":0.35,"y":-0.35,"v":0.66},{"x":0.4,"y":-0.35,"v":0.69},{"x":0.45,"y":-0.35,"v":0.72},{"x":0.5,"y":-0.35,"v":0.76},{"x":0.55,"y":-0.35,"v":0.79},{"x":0.6,"y":-0.35,"v":0.82},{"x":0.65,"y":-0.35,"v":0.84},{"x":0.7,"y":-0.35,"v":0.87},{"x":0.75,"y":-0.35,"v":0.9},{"x":0.8,"y":-0.35,"v":0.93},{"x":0.85,"y":-0.35,"v":0.95},{"x":0.9,"y":-0.35,"v":0.98},{"x":0.95,"y":-0.35,"v":1},
{"x":-1,"y":-0.4,"v":0.19},{"x":-0.95,"y":-0.4,"v":0.19},{"x":-0.9,"y":-0.4,"v":0.2},{"x":-0.85,"y":-0.4,"v":0.2},{"x":-0.8,"y":-0.4,"v":0.21},{"x":-0.75,"y":-0.4,"v":0.21},{"x":-0.7,"y":-0.4,"v":0.22},{"x":-0.65,"y":-0.4,"v":0.23},{"x":-0.6,"y":-0.4,"v":0.24},{"x":-0.55,"y":-0.4,"v":0.25},{"x":-0.5,"y":-0.4,"v":0.26},{"x":-0.45,"y":-0.4,"v":0.27},{"x":-0.4,"y":-0.4,"v":0.28},{"x":-0.35,"y":-0.4,"v":0.29},{"x":-0.3,"y":-0.4,"v":0.31},{"x":-0.25,"y":-0.4,"v":0.33},{"x":-0.2,"y":-0.4,"v":0.35},{"x":-0.15,"y":-0.4,"v":0.37},{"x":-0.1,"y":-0.4,"v":0.39},{"x":-0.05,"y":-0.4,"v":0.42},{"x":0,"y":-0.4,"v":0.45},{"x":0.05,"y":-0.4,"v":0.48},{"x":0.1,"y":-0.4,"v":0.51},{"x":0.15,"y":-0.4,"v":0.54},{"x":0.2,"y":-0.4,"v":0.58},{"x":0.25,"y":-0.4,"v":0.61},{"x":0.3,"y":-0.4,"v":0.64},{"x":0.35,"y":-0.4,"v":0.67},{"x":0.4,"y":-0.4,"v":0.7},{"x":0.45,"y":-0.4,"v":0.73},{"x":0.5,"y":-0.4,"v":0.76},{"x":0.55,"y":-0.4,"v":0.79},{"x":0.6,"y":-0.4,"v":0.82},{"x":0.65,"y":-0.4,"v":0.85},{"x":0.7,"y":-0.4,"v":0.88},{"x":0.75,"y":-0.4,"v":0.9},{"x":0.8,"y":-0.4,"v":0.93},{"x":0.85,"y":-0.4,"v":0.96},{"x":0.9,"y":-0.4,"v":0.98},{"x":0.95,"y":-0.4,"v":1.01},
{"x":-1,"y":-0.45,"v":0.21},{"x":-0.95,"y":-0.45,"v":0.22},{"x":-0.9,"y":-0.45,"v":0.22},{"x":-0.85,"y":-0.45,"v":0.23},{"x":-0.8,"y":-0.45,"v":0.23},{"x":-0.75,"y":-0.45,"v":0.24},{"x":-0.7,"y":-0.45,"v":0.25},{"x":-0.65,"y":-0.45,"v":0.26},{"x":-0.6,"y":-0.45,"v":0.27},{"x":-0.55,"y":-0.45,"v":0.27},{"x":-0.5,"y":-0.45,"v":0.29},{"x":-0.45,"y":-0.45,"v":0.3},{"x":-0.4,"y":-0.45,"v":0.31},{"x":-0.35,"y":-0.45,"v":0.32},{"x":-0.3,"y":-0.45,"v":0.34},{"x":-0.25,"y":-0.45,"v":0.36},{"x":-0.2,"y":-0.45,"v":0.38},{"x":-0.15,"y":-0.45,"v":0.4},{"x":-0.1,"y":-0.45,"v":0.42},{"x":-0.05,"y":-0.45,"v":0.45},{"x":0,"y":-0.45,"v":0.48},{"x":0.05,"y":-0.45,"v":0.5},{"x":0.1,"y":-0.45,"v":0.53},{"x":0.15,"y":-0.45,"v":0.56},{"x":0.2,"y":-0.45,"v":0.59},{"x":0.25,"y":-0.45,"v":0.63},{"x":0.3,"y":-0.45,"v":0.66},{"x":0.35,"y":-0.45,"v":0.69},{"x":0.4,"y":-0.45,"v":0.72},{"x":0.45,"y":-0.45,"v":0.75},{"x":0.5,"y":-0.45,"v":0.78},{"x":0.55,"y":-0.45,"v":0.8},{"x":0.6,"y":-0.45,"v":0.83},{"x":0.65,"y":-0.45,"v":0.86},{"x":0.7,"y":-0.45,"v":0.89},{"x":0.75,"y":-0.45,"v":0.91},{"x":0.8,"y":-0.45,"v":0.94},{"x":0.85,"y":-0.45,"v":0.96},{"x":0.9,"y":-0.45,"v":0.99},{"x":0.95,"y":-0.45,"v":1.01},
{"x":-1,"y":-0.5,"v":0.23},{"x":-0.95,"y":-0.5,"v":0.24},{"x":-0.9,"y":-0.5,"v":0.25},{"x":-0.85,"y":-0.5,"v":0.25},{"x":-0.8,"y":-0.5,"v":0.26},{"x":-0.75,"y":-0.5,"v":0.27},{"x":-0.7,"y":-0.5,"v":0.27},{"x":-0.65,"y":-0.5,"v":0.28},{"x":-0.6,"y":-0.5,"v":0.29},{"x":-0.55,"y":-0.5,"v":0.3},{"x":-0.5,"y":-0.5,"v":0.31},{"x":-0.45,"y":-0.5,"v":0.33},{"x":-0.4,"y":-0.5,"v":0.34},{"x":-0.35,"y":-0.5,"v":0.35},{"x":-0.3,"y":-0.5,"v":0.37},{"x":-0.25,"y":-0.5,"v":0.39},{"x":-0.2,"y":-0.5,"v":0.41},{"x":-0.15,"y":-0.5,"v":0.43},{"x":-0.1,"y":-0.5,"v":0.45},{"x":-0.05,"y":-0.5,"v":0.48},{"x":0,"y":-0.5,"v":0.5},{"x":0.05,"y":-0.5,"v":0.53},{"x":0.1,"y":-0.5,"v":0.56},{"x":0.15,"y":-0.5,"v":0.58},{"x":0.2,"y":-0.5,"v":0.61},{"x":0.25,"y":-0.5,"v":0.64},{"x":0.3,"y":-0.5,"v":0.67},{"x":0.35,"y":-0.5,"v":0.7},{"x":0.4,"y":-0.5,"v":0.73},{"x":0.45,"y":-0.5,"v":0.76},{"x":0.5,"y":-0.5,"v":0.79},{"x":0.55,"y":-0.5,"v":0.81},{"x":0.6,"y":-0.5,"v":0.84},{"x":0.65,"y":-0.5,"v":0.87},{"x":0.7,"y":-0.5,"v":0.89},{"x":0.75,"y":-0.5,"v":0.92},{"x":0.8,"y":-0.5,"v":0.94},{"x":0.85,"y":-0.5,"v":0.97},{"x":0.9,"y":-0.5,"v":0.99},{"x":0.95,"y":-0.5,"v":1.02},
{"x":-1,"y":-0.55,"v":0.26},{"x":-0.95,"y":-0.55,"v":0.26},{"x":-0.9,"y":-0.55,"v":0.27},{"x":-0.85,"y":-0.55,"v":0.28},{"x":-0.8,"y":-0.55,"v":0.28},{"x":-0.75,"y":-0.55,"v":0.29},{"x":-0.7,"y":-0.55,"v":0.3},{"x":-0.65,"y":-0.55,"v":0.31},{"x":-0.6,"y":-0.55,"v":0.32},{"x":-0.55,"y":-0.55,"v":0.33},{"x":-0.5,"y":-0.55,"v":0.34},{"x":-0.45,"y":-0.55,"v":0.35},{"x":-0.4,"y":-0.55,"v":0.37},{"x":-0.35,"y":-0.55,"v":0.38},{"x":-0.3,"y":-0.55,"v":0.4},{"x":-0.25,"y":-0.55,"v":0.42},{"x":-0.2,"y":-0.55,"v":0.44},{"x":-0.15,"y":-0.55,"v":0.46},{"x":-0.1,"y":-0.55,"v":0.48},{"x":-0.05,"y":-0.55,"v":0.5},{"x":0,"y":-0.55,"v":0.53},{"x":0.05,"y":-0.55,"v":0.55},{"x":0.1,"y":-0.55,"v":0.58},{"x":0.15,"y":-0.55,"v":0.6},{"x":0.2,"y":-0.55,"v":0.63},{"x":0.25,"y":-0.55,"v":0.66},{"x":0.3,"y":-0.55,"v":0.69},{"x":0.35,"y":-0.55,"v":0.71},{"x":0.4,"y":-0.55,"v":0.74},{"x":0.45,"y":-0.55,"v":0.77},{"x":0.5,"y":-0.55,"v":0.8},{"x":0.55,"y":-0.55,"v":0.82},{"x":0.6,"y":-0.55,"v":0.85},{"x":0.65,"y":-0.55,"v":0.87},{"x":0.7,"y":-0.55,"v":0.9},{"x":0.75,"y":-0.55,"v":0.92},{"x":0.8,"y":-0.55,"v":0.95},{"x":0.85,"y":-0.55,"v":0.97},{"x":0.9,"y":-0.55,"v":1},{"x":0.95,"y":-0.55,"v":1.02},
{"x":-1,"y":-0.6,"v":0.28},{"x":-0.95,"y":-0.6,"v":0.29},{"x":-0.9,"y":-0.6,"v":0.29},{"x":-0.85,"y":-0.6,"v":0.3},{"x":-0.8,"y":-0.6,"v":0.31},{"x":-0.75,"y":-0.6,"v":0.32},{"x":-0.7,"y":-0.6,"v":0.33},{"x":-0.65,"y":-0.6,"v":0.34},{"x":-0.6,"y":-0.6,"v":0.35},{"x":-0.55,"y":-0.6,"v":0.36},{"x":-0.5,"y":-0.6,"v":0.37},{"x":-0.45,"y":-0.6,"v":0.38},{"x":-0.4,"y":-0.6,"v":0.4},{"x":-0.35,"y":-0.6,"v":0.41},{"x":-0.3,"y":-0.6,"v":0.43},{"x":-0.25,"y":-0.6,"v":0.44},{"x":-0.2,"y":-0.6,"v":0.46},{"x":-0.15,"y":-0.6,"v":0.48},{"x":-0.1,"y":-0.6,"v":0.5},{"x":-0.05,"y":-0.6,"v":0.53},{"x":0,"y":-0.6,"v":0.55},{"x":0.05,"y":-0.6,"v":0.57},{"x":0.1,"y":-0.6,"v":0.6},{"x":0.15,"y":-0.6,"v":0.62},{"x":0.2,"y":-0.6,"v":0.65},{"x":0.25,"y":-0.6,"v":0.68},{"x":0.3,"y":-0.6,"v":0.7},{"x":0.35,"y":-0.6,"v":0.73},{"x":0.4,"y":-0.6,"v":0.76},{"x":0.45,"y":-0.6,"v":0.78},{"x":0.5,"y":-0.6,"v":0.81},{"x":0.55,"y":-0.6,"v":0.83},{"x":0.6,"y":-0.6,"v":0.86},{"x":0.65,"y":-0.6,"v":0.88},{"x":0.7,"y":-0.6,"v":0.91},{"x":0.75,"y":-0.6,"v":0.93},{"x":0.8,"y":-0.6,"v":0.96},{"x":0.85,"y":-0.6,"v":0.98},{"x":0.9,"y":-0.6,"v":1},{"x":0.95,"y":-0.6,"v":1.03},
{"x":-1,"y":-0.65,"v":0.3},{"x":-0.95,"y":-0.65,"v":0.31},{"x":-0.9,"y":-0.65,"v":0.32},{"x":-0.85,"y":-0.65,"v":0.32},{"x":-0.8,"y":-0.65,"v":0.33},{"x":-0.75,"y":-0.65,"v":0.34},{"x":-0.7,"y":-0.65,"v":0.35},{"x":-0.65,"y":-0.65,"v":0.36},{"x":-0.6,"y":-0.65,"v":0.37},{"x":-0.55,"y":-0.65,"v":0.38},{"x":-0.5,"y":-0.65,"v":0.39},{"x":-0.45,"y":-0.65,"v":0.41},{"x":-0.4,"y":-0.65,"v":0.42},{"x":-0.35,"y":-0.65,"v":0.44},{"x":-0.3,"y":-0.65,"v":0.45},{"x":-0.25,"y":-0.65,"v":0.47},{"x":-0.2,"y":-0.65,"v":0.49},{"x":-0.15,"y":-0.65,"v":0.51},{"x":-0.1,"y":-0.65,"v":0.53},{"x":-0.05,"y":-0.65,"v":0.55},{"x":0,"y":-0.65,"v":0.57},{"x":0.05,"y":-0.65,"v":0.59},{"x":0.1,"y":-0.65,"v":0.62},{"x":0.15,"y":-0.65,"v":0.64},{"x":0.2,"y":-0.65,"v":0.67},{"x":0.25,"y":-0.65,"v":0.69},{"x":0.3,"y":-0.65,"v":0.72},{"x":0.35,"y":-0.65,"v":0.74},{"x":0.4,"y":-0.65,"v":0.77},{"x":0.45,"y":-0.65,"v":0.79},{"x":0.5,"y":-0.65,"v":0.82},{"x":0.55,"y":-0.65,"v":0.84},{"x":0.6,"y":-0.65,"v":0.87},{"x":0.65,"y":-0.65,"v":0.89},{"x":0.7,"y":-0.65,"v":0.92},{"x":0.75,"y":-0.65,"v":0.94},{"x":0.8,"y":-0.65,"v":0.96},{"x":0.85,"y":-0.65,"v":0.99},{"x":0.9,"y":-0.65,"v":1.01},{"x":0.95,"y":-0.65,"v":1.03},
{"x":-1,"y":-0.7,"v":0.33},{"x":-0.95,"y":-0.7,"v":0.33},{"x":-0.9,"y":-0.7,"v":0.34},{"x":-0.85,"y":-0.7,"v":0.35},{"x":-0.8,"y":-0.7,"v":0.36},{"x":-0.75,"y":-0.7,"v":0.36},{"x":-0.7,"y":-0.7,"v":0.37},{"x":-0.65,"y":-0.7,"v":0.38},{"x":-0.6,"y":-0.7,"v":0.4},{"x":-0.55,"y":-0.7,"v":0.41},{"x":-0.5,"y":-0.7,"v":0.42},{"x":-0.45,"y":-0.7,"v":0.43},{"x":-0.4,"y":-0.7,"v":0.45},{"x":-0.35,"y":-0.7,"v":0.46},{"x":-0.3,"y":-0.7,"v":0.48},{"x":-0.25,"y":-0.7,"v":0.49},{"x":-0.2,"y":-0.7,"v":0.51},{"x":-0.15,"y":-0.7,"v":0.53},{"x":-0.1,"y":-0.7,"v":0.55},{"x":-0.05,"y":-0.7,"v":0.57},{"x":0,"y":-0.7,"v":0.59},{"x":0.05,"y":-0.7,"v":0.61},{"x":0.1,"y":-0.7,"v":0.64},{"x":0.15,"y":-0.7,"v":0.66},{"x":0.2,"y":-0.7,"v":0.68},{"x":0.25,"y":-0.7,"v":0.71},{"x":0.3,"y":-0.7,"v":0.73},{"x":0.35,"y":-0.7,"v":0.76},{"x":0.4,"y":-0.7,"v":0.78},{"x":0.45,"y":-0.7,"v":0.81},{"x":0.5,"y":-0.7,"v":0.83},{"x":0.55,"y":-0.7,"v":0.86},{"x":0.6,"y":-0.7,"v":0.88},{"x":0.65,"y":-0.7,"v":0.9},{"x":0.7,"y":-0.7,"v":0.93},{"x":0.75,"y":-0.7,"v":0.95},{"x":0.8,"y":-0.7,"v":0.97},{"x":0.85,"y":-0.7,"v":1},{"x":0.9,"y":-0.7,"v":1.02},{"x":0.95,"y":-0.7,"v":1.04},
{"x":-1,"y":-0.75,"v":0.35},{"x":-0.95,"y":-0.75,"v":0.35},{"x":-0.9,"y":-0.75,"v":0.36},{"x":-0.85,"y":-0.75,"v":0.37},{"x":-0.8,"y":-0.75,"v":0.38},{"x":-0.75,"y":-0.75,"v":0.39},{"x":-0.7,"y":-0.75,"v":0.4},{"x":-0.65,"y":-0.75,"v":0.41},{"x":-0.6,"y":-0.75,"v":0.42},{"x":-0.55,"y":-0.75,"v":0.43},{"x":-0.5,"y":-0.75,"v":0.44},{"x":-0.45,"y":-0.75,"v":0.46},{"x":-0.4,"y":-0.75,"v":0.47},{"x":-0.35,"y":-0.75,"v":0.49},{"x":-0.3,"y":-0.75,"v":0.5},{"x":-0.25,"y":-0.75,"v":0.52},{"x":-0.2,"y":-0.75,"v":0.53},{"x":-0.15,"y":-0.75,"v":0.55},{"x":-0.1,"y":-0.75,"v":0.57},{"x":-0.05,"y":-0.75,"v":0.59},{"x":0,"y":-0.75,"v":0.61},{"x":0.05,"y":-0.75,"v":0.63},{"x":0.1,"y":-0.75,"v":0.66},{"x":0.15,"y":-0.75,"v":0.68},{"x":0.2,"y":-0.75,"v":0.7},{"x":0.25,"y":-0.75,"v":0.72},{"x":0.3,"y":-0.75,"v":0.75},{"x":0.35,"y":-0.75,"v":0.77},{"x":0.4,"y":-0.75,"v":0.79},{"x":0.45,"y":-0.75,"v":0.82},{"x":0.5,"y":-0.75,"v":0.84},{"x":0.55,"y":-0.75,"v":0.87},{"x":0.6,"y":-0.75,"v":0.89},{"x":0.65,"y":-0.75,"v":0.91},{"x":0.7,"y":-0.75,"v":0.94},{"x":0.75,"y":-0.75,"v":0.96},{"x":0.8,"y":-0.75,"v":0.98},{"x":0.85,"y":-0.75,"v":1},{"x":0.9,"y":-0.75,"v":1.02},{"x":0.95,"y":-0.75,"v":1.05},
{"x":-1,"y":-0.8,"v":0.37},{"x":-0.95,"y":-0.8,"v":0.38},{"x":-0.9,"y":-0.8,"v":0.38},{"x":-0.85,"y":-0.8,"v":0.39},{"x":-0.8,"y":-0.8,"v":0.4},{"x":-0.75,"y":-0.8,"v":0.41},{"x":-0.7,"y":-0.8,"v":0.42},{"x":-0.65,"y":-0.8,"v":0.43},{"x":-0.6,"y":-0.8,"v":0.44},{"x":-0.55,"y":-0.8,"v":0.45},{"x":-0.5,"y":-0.8,"v":0.47},{"x":-0.45,"y":-0.8,"v":0.48},{"x":-0.4,"y":-0.8,"v":0.49},{"x":-0.35,"y":-0.8,"v":0.51},{"x":-0.3,"y":-0.8,"v":0.52},{"x":-0.25,"y":-0.8,"v":0.54},{"x":-0.2,"y":-0.8,"v":0.56},{"x":-0.15,"y":-0.8,"v":0.57},{"x":-0.1,"y":-0.8,"v":0.59},{"x":-0.05,"y":-0.8,"v":0.61},{"x":0,"y":-0.8,"v":0.63},{"x":0.05,"y":-0.8,"v":0.65},{"x":0.1,"y":-0.8,"v":0.67},{"x":0.15,"y":-0.8,"v":0.7},{"x":0.2,"y":-0.8,"v":0.72},{"x":0.25,"y":-0.8,"v":0.74},{"x":0.3,"y":-0.8,"v":0.76},{"x":0.35,"y":-0.8,"v":0.79},{"x":0.4,"y":-0.8,"v":0.81},{"x":0.45,"y":-0.8,"v":0.83},{"x":0.5,"y":-0.8,"v":0.85},{"x":0.55,"y":-0.8,"v":0.88},{"x":0.6,"y":-0.8,"v":0.9},{"x":0.65,"y":-0.8,"v":0.92},{"x":0.7,"y":-0.8,"v":0.95},{"x":0.75,"y":-0.8,"v":0.97},{"x":0.8,"y":-0.8,"v":0.99},{"x":0.85,"y":-0.8,"v":1.01},{"x":0.9,"y":-0.8,"v":1.03},{"x":0.95,"y":-0.8,"v":1.05},
{"x":-1,"y":-0.85,"v":0.39},{"x":-0.95,"y":-0.85,"v":0.4},{"x":-0.9,"y":-0.85,"v":0.41},{"x":-0.85,"y":-0.85,"v":0.41},{"x":-0.8,"y":-0.85,"v":0.42},{"x":-0.75,"y":-0.85,"v":0.43},{"x":-0.7,"y":-0.85,"v":0.44},{"x":-0.65,"y":-0.85,"v":0.45},{"x":-0.6,"y":-0.85,"v":0.46},{"x":-0.55,"y":-0.85,"v":0.48},{"x":-0.5,"y":-0.85,"v":0.49},{"x":-0.45,"y":-0.85,"v":0.5},{"x":-0.4,"y":-0.85,"v":0.52},{"x":-0.35,"y":-0.85,"v":0.53},{"x":-0.3,"y":-0.85,"v":0.55},{"x":-0.25,"y":-0.85,"v":0.56},{"x":-0.2,"y":-0.85,"v":0.58},{"x":-0.15,"y":-0.85,"v":0.6},{"x":-0.1,"y":-0.85,"v":0.61},{"x":-0.05,"y":-0.85,"v":0.63},{"x":0,"y":-0.85,"v":0.65},{"x":0.05,"y":-0.85,"v":0.67},{"x":0.1,"y":-0.85,"v":0.69},{"x":0.15,"y":-0.85,"v":0.71},{"x":0.2,"y":-0.85,"v":0.74},{"x":0.25,"y":-0.85,"v":0.76},{"x":0.3,"y":-0.85,"v":0.78},{"x":0.35,"y":-0.85,"v":0.8},{"x":0.4,"y":-0.85,"v":0.82},{"x":0.45,"y":-0.85,"v":0.84},{"x":0.5,"y":-0.85,"v":0.87},{"x":0.55,"y":-0.85,"v":0.89},{"x":0.6,"y":-0.85,"v":0.91},{"x":0.65,"y":-0.85,"v":0.93},{"x":0.7,"y":-0.85,"v":0.95},{"x":0.75,"y":-0.85,"v":0.98},{"x":0.8,"y":-0.85,"v":1},{"x":0.85,"y":-0.85,"v":1.02},{"x":0.9,"y":-0.85,"v":1.04},{"x":0.95,"y":-0.85,"v":1.06},
{"x":-1,"y":-0.9,"v":0.41},{"x":-0.95,"y":-0.9,"v":0.42},{"x":-0.9,"y":-0.9,"v":0.43},{"x":-0.85,"y":-0.9,"v":0.44},{"x":-0.8,"y":-0.9,"v":0.44},{"x":-0.75,"y":-0.9,"v":0.45},{"x":-0.7,"y":-0.9,"v":0.46},{"x":-0.65,"y":-0.9,"v":0.47},{"x":-0.6,"y":-0.9,"v":0.49},{"x":-0.55,"y":-0.9,"v":0.5},{"x":-0.5,"y":-0.9,"v":0.51},{"x":-0.45,"y":-0.9,"v":0.52},{"x":-0.4,"y":-0.9,"v":0.54},{"x":-0.35,"y":-0.9,"v":0.55},{"x":-0.3,"y":-0.9,"v":0.57},{"x":-0.25,"y":-0.9,"v":0.58},{"x":-0.2,"y":-0.9,"v":0.6},{"x":-0.15,"y":-0.9,"v":0.62},{"x":-0.1,"y":-0.9,"v":0.63},{"x":-0.05,"y":-0.9,"v":0.65},{"x":0,"y":-0.9,"v":0.67},{"x":0.05,"y":-0.9,"v":0.69},{"x":0.1,"y":-0.9,"v":0.71},{"x":0.15,"y":-0.9,"v":0.73},{"x":0.2,"y":-0.9,"v":0.75},{"x":0.25,"y":-0.9,"v":0.77},{"x":0.3,"y":-0.9,"v":0.79},{"x":0.35,"y":-0.9,"v":0.81},{"x":0.4,"y":-0.9,"v":0.84},{"x":0.45,"y":-0.9,"v":0.86},{"x":0.5,"y":-0.9,"v":0.88},{"x":0.55,"y":-0.9,"v":0.9},{"x":0.6,"y":-0.9,"v":0.92},{"x":0.65,"y":-0.9,"v":0.94},{"x":0.7,"y":-0.9,"v":0.96},{"x":0.75,"y":-0.9,"v":0.99},{"x":0.8,"y":-0.9,"v":1.01},{"x":0.85,"y":-0.9,"v":1.03},{"x":0.9,"y":-0.9,"v":1.05},{"x":0.95,"y":-0.9,"v":1.07},
{"x":-1,"y":-0.95,"v":0.43},{"x":-0.95,"y":-0.95,"v":0.44},{"x":-0.9,"y":-0.95,"v":0.45},{"x":-0.85,"y":-0.95,"v":0.46},{"x":-0.8,"y":-0.95,"v":0.47},{"x":-0.75,"y":-0.95,"v":0.47},{"x":-0.7,"y":-0.95,"v":0.49},{"x":-0.65,"y":-0.95,"v":0.5},{"x":-0.6,"y":-0.95,"v":0.51},{"x":-0.55,"y":-0.95,"v":0.52},{"x":-0.5,"y":-0.95,"v":0.53},{"x":-0.45,"y":-0.95,"v":0.55},{"x":-0.4,"y":-0.95,"v":0.56},{"x":-0.35,"y":-0.95,"v":0.57},{"x":-0.3,"y":-0.95,"v":0.59},{"x":-0.25,"y":-0.95,"v":0.6},{"x":-0.2,"y":-0.95,"v":0.62},{"x":-0.15,"y":-0.95,"v":0.64},{"x":-0.1,"y":-0.95,"v":0.65},{"x":-0.05,"y":-0.95,"v":0.67},{"x":0,"y":-0.95,"v":0.69},{"x":0.05,"y":-0.95,"v":0.71},{"x":0.1,"y":-0.95,"v":0.73},{"x":0.15,"y":-0.95,"v":0.75},{"x":0.2,"y":-0.95,"v":0.77},{"x":0.25,"y":-0.95,"v":0.79},{"x":0.3,"y":-0.95,"v":0.81},{"x":0.35,"y":-0.95,"v":0.83},{"x":0.4,"y":-0.95,"v":0.85},{"x":0.45,"y":-0.95,"v":0.87},{"x":0.5,"y":-0.95,"v":0.89},{"x":0.55,"y":-0.95,"v":0.91},{"x":0.6,"y":-0.95,"v":0.93},{"x":0.65,"y":-0.95,"v":0.95},{"x":0.7,"y":-0.95,"v":0.97},{"x":0.75,"y":-0.95,"v":1},{"x":0.8,"y":-0.95,"v":1.02},{"x":0.85,"y":-0.95,"v":1.04},{"x":0.9,"y":-0.95,"v":1.06},{"x":0.95,"y":-0.95,"v":1.08},
{"x":-1,"y":-1,"v":0.45},{"x":-0.95,"y":-1,"v":0.46},{"x":-0.9,"y":-1,"v":0.47},{"x":-0.85,"y":-1,"v":0.48},{"x":-0.8,"y":-1,"v":0.49},{"x":-0.75,"y":-1,"v":0.5},{"x":-0.7,"y":-1,"v":0.51},{"x":-0.65,"y":-1,"v":0.52},{"x":-0.6,"y":-1,"v":0.53},{"x":-0.55,"y":-1,"v":0.54},{"x":-0.5,"y":-1,"v":0.55},{"x":-0.45,"y":-1,"v":0.57},{"x":-0.4,"y":-1,"v":0.58},{"x":-0.35,"y":-1,"v":0.59},{"x":-0.3,"y":-1,"v":0.61},{"x":-0.25,"y":-1,"v":0.62},{"x":-0.2,"y":-1,"v":0.64},{"x":-0.15,"y":-1,"v":0.66},{"x":-0.1,"y":-1,"v":0.67},{"x":-0.05,"y":-1,"v":0.69},{"x":0,"y":-1,"v":0.71},{"x":0.05,"y":-1,"v":0.73},{"x":0.1,"y":-1,"v":0.74},{"x":0.15,"y":-1,"v":0.76},{"x":0.2,"y":-1,"v":0.78},{"x":0.25,"y":-1,"v":0.8},{"x":0.3,"y":-1,"v":0.82},{"x":0.35,"y":-1,"v":0.84},{"x":0.4,"y":-1,"v":0.86},{"x":0.45,"y":-1,"v":0.88},{"x":0.5,"y":-1,"v":0.9},{"x":0.55,"y":-1,"v":0.92},{"x":0.6,"y":-1,"v":0.94},{"x":0.65,"y":-1,"v":0.96},{"x":0.7,"y":-1,"v":0.98},{"x":0.75,"y":-1,"v":1.01},{"x":0.8,"y":-1,"v":1.03},{"x":0.85,"y":-1,"v":1.05},{"x":0.9,"y":-1,"v":1.07},{"x":0.95,"y":-1,"v":1.09}
]},
"layer":[
{"mark":{"type":"rect","strokeWidth":0.6},
"encoding":{
"x":{"field":"x","type":"quantitative","bin":{"binned":true,"step":0.05},"scale":{"domain":[-1,1],"nice":false,"zero":false},
"axis":{"title":"x","values":[-1,-0.9,-0.8,-0.7,-0.6,-0.5,-0.4,-0.3,-0.2,-0.1,0,0.1,0.2,0.3,0.4,0.5,0.6,0.7,0.8,0.9,1],
"labelExpr":"abs(datum.value*2-round(datum.value*2))<0.01 ? (abs(datum.value)<0.001 ? '-0.0' : ((datum.value<0?'-':'')+format(abs(datum.value),'.1f'))) : ''",
"tickSize":{"condition":{"test":"abs(datum.value*2-round(datum.value*2))<0.01","value":-6},"value":-3},
"labelAlign":{"condition":{"test":"datum.value<-0.99","value":"right"},"value":"center"},
"labelPadding":11,"labelFlush":false,"labelOverlap":false,"titlePadding":2,"zindex":1}},
"y":{"field":"y","type":"quantitative","bin":{"binned":true,"step":0.05},"scale":{"domain":[-1,1],"nice":false,"zero":false},
"axis":{"title":"y","values":[-1,-0.9,-0.8,-0.7,-0.6,-0.5,-0.4,-0.3,-0.2,-0.1,0,0.1,0.2,0.3,0.4,0.5,0.6,0.7,0.8,0.9,1],
"labelExpr":"abs((datum.value+1)*2.5-round((datum.value+1)*2.5))<0.01 ? ((datum.value<0?'-':'')+format(abs(datum.value),'.1f')) : ''",
"tickSize":{"condition":{"test":"abs((datum.value+1)*2.5-round((datum.value+1)*2.5))<0.01","value":-8},"value":-4},
"labelPadding":11,"labelFlush":false,"labelOverlap":false,"titlePadding":28,"zindex":1}},
"color":{"field":"v","type":"quantitative","scale":{"domain":[0,0.1375,0.275,0.4125,0.55,0.6875,0.825,0.9625,1.1],"range":["#000080","#0000ff","#0080ff","#00ffff","#80ff80","#ffff00","#ff8000","#ff0000","#800000"],"interpolate":"rgb"},"legend":null},
"stroke":{"field":"v","type":"quantitative","scale":{"domain":[0,0.1375,0.275,0.4125,0.55,0.6875,0.825,0.9625,1.1],"range":["#000080","#0000ff","#0080ff","#00ffff","#80ff80","#ffff00","#ff8000","#ff0000","#800000"],"interpolate":"rgb"},"legend":null}
}},
{"data":{"values":[{}]},"mark":{"type":"rule","color":"#000","strokeWidth":1},
"encoding":{"x":{"datum":-1,"type":"quantitative","scale":{"domain":[-1,1],"nice":false,"zero":false}},"y":{"datum":1,"type":"quantitative","scale":{"domain":[-1,1],"nice":false,"zero":false}},"y2":{"datum":1.045}}},
{"data":{"values":[{}]},"mark":{"type":"rule","color":"#000","strokeWidth":1},
"encoding":{"x":{"datum":1,"type":"quantitative","scale":{"domain":[-1,1],"nice":false,"zero":false}},"x2":{"datum":1.04},"y":{"datum":-1,"type":"quantitative","scale":{"domain":[-1,1],"nice":false,"zero":false}}}},
{"data":{"values":[{}]},"mark":{"type":"point","shape":"M0,-1L0.64,1L-0.64,1Z","size":121,"filled":true,"fill":"#000","strokeWidth":0,"opacity":1},
"encoding":{"x":{"datum":-1,"type":"quantitative","scale":{"domain":[-1,1],"nice":false,"zero":false}},"y":{"datum":1.087,"type":"quantitative","scale":{"domain":[-1,1],"nice":false,"zero":false}}}},
{"data":{"values":[{}]},"mark":{"type":"point","shape":"M1,0L-1,0.55L-1,-0.55Z","size":156,"filled":true,"fill":"#000","strokeWidth":0,"opacity":1},
"encoding":{"x":{"datum":1.092,"type":"quantitative","scale":{"domain":[-1,1],"nice":false,"zero":false}},"y":{"datum":-1,"type":"quantitative","scale":{"domain":[-1,1],"nice":false,"zero":false}}}}
]
},
{
"width":10,"height":264,
"data":{"values":[{}]},
"mark":{"type":"rect","fill":{"gradient":"linear","x1":0,"y1":1,"x2":0,"y2":0,"stops":[{"offset":0,"color":"#000080"},{"offset":0.125,"color":"#0000ff"},{"offset":0.375,"color":"#00ffff"},{"offset":0.625,"color":"#ffff00"},{"offset":0.875,"color":"#ff0000"},{"offset":1,"color":"#800000"}]}},
"encoding":{
"x":{"datum":0,"type":"quantitative","scale":{"domain":[0,1],"nice":false,"zero":false},"axis":null},
"x2":{"datum":1},
"y":{"datum":0,"type":"quantitative","scale":{"domain":[-0.033,1.14],"nice":false,"zero":false},
"axis":{"orient":"right","title":null,"values":[0.1,0.3,0.5,0.7,0.9,1.1],"format":".1f","tickSize":4,"labelPadding":1,"domain":false,"grid":true,"gridColor":"#000","gridOpacity":1,"gridWidth":1,"labelFlush":false,"labelOverlap":false,"zindex":1}},
"y2":{"datum":1.1}
}
}
]
}
